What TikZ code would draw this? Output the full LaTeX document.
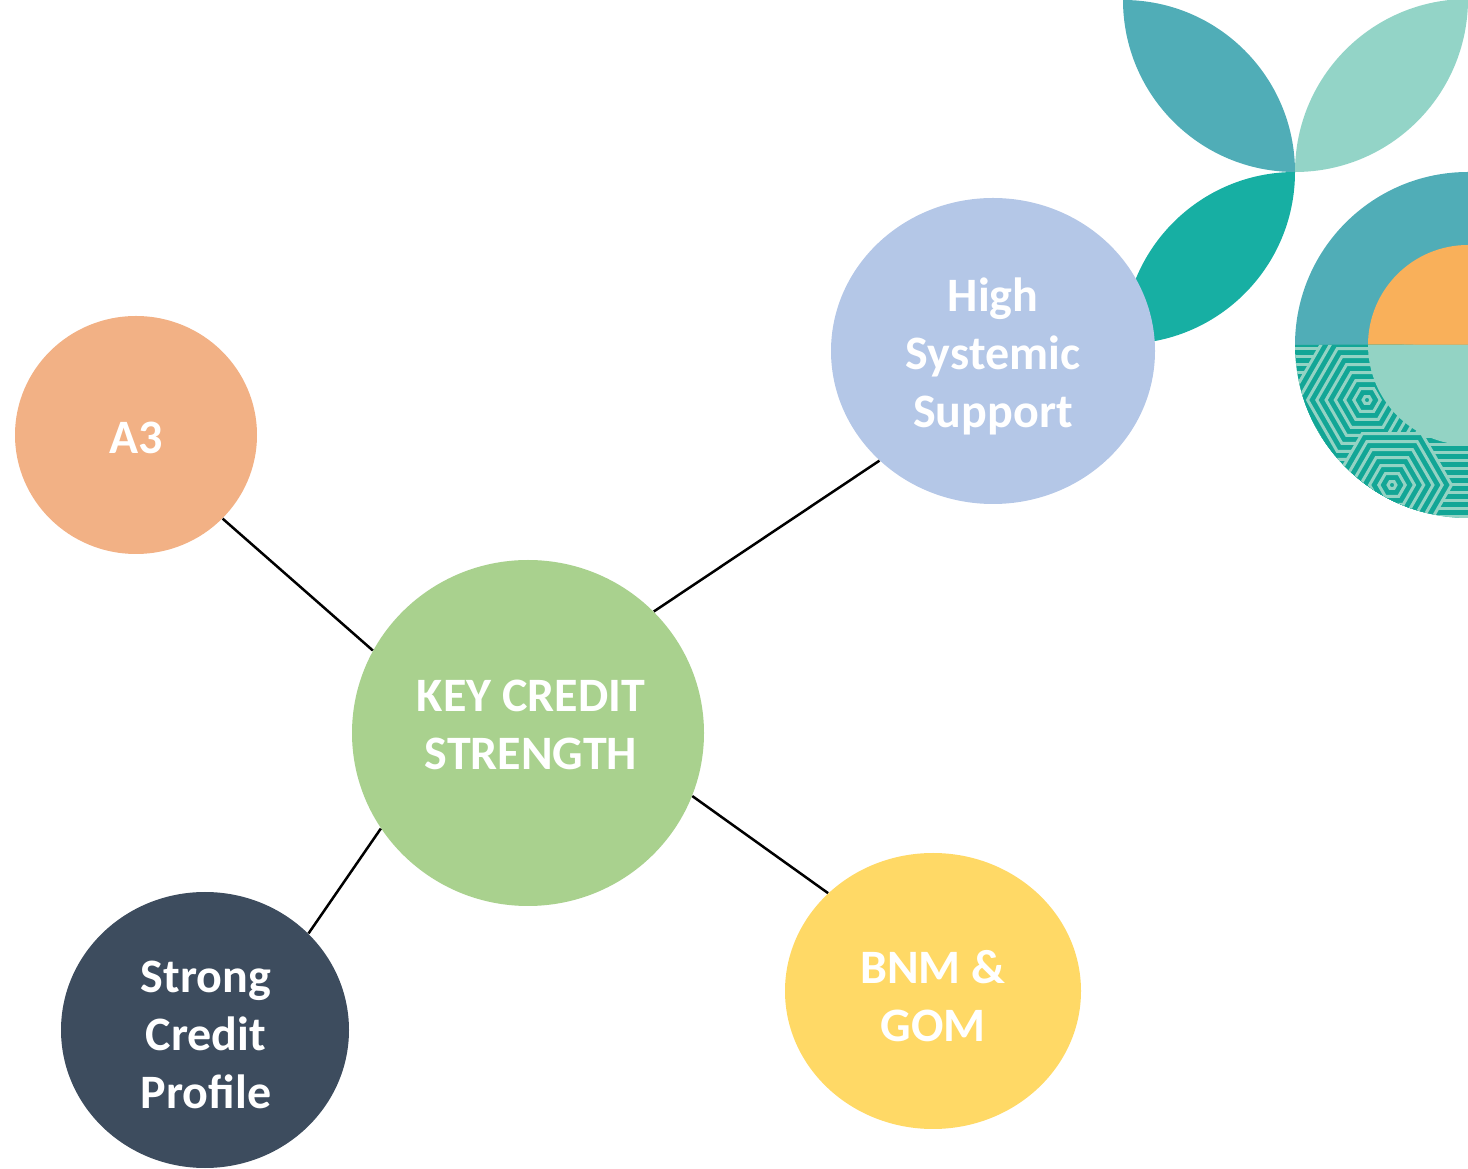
\documentclass[tikz,border=0pt]{standalone}
\usepackage{fontspec}
\setmainfont{Carlito}
\usetikzlibrary{shapes.geometric}

\definecolor{leafteal}{HTML}{50ADB7}
\definecolor{leafmint}{HTML}{93D4C7}
\definecolor{leafgreen}{HTML}{17AFA3}
\definecolor{sunorange}{HTML}{F9B05A}
\definecolor{stripeteal}{HTML}{12A696}
\definecolor{stripemint}{HTML}{93D3C4}
\definecolor{cpeach}{HTML}{F2B185}
\definecolor{cblue}{HTML}{B4C7E7}
\definecolor{cgreen}{HTML}{A9D18E}
\definecolor{cslate}{HTML}{3D4C5E}
\definecolor{cyellow}{HTML}{FFD966}

\tikzset{
  bubble/.style={ellipse, inner sep=0pt, draw=none},
  caption/.style={text=white, inner sep=0pt,
    font=\fontsize{24}{29}\selectfont\bfseries, align=center},
  link/.style={draw=black, line width=1.25pt},
  stripe/.style={draw=stripemint, line width=1.5pt}
}

\begin{document}
\begin{tikzpicture}[x=0.5pt, y=0.5pt]
  \useasboundingbox (0,0) rectangle (1468,1168);

  % leaves
  \fill[leafteal] (1123,1168) arc[start angle=180, end angle=270, radius=86pt]
    arc[start angle=0, end angle=90, radius=86pt] -- cycle;
  \fill[leafmint] (1295,996) arc[start angle=270, end angle=360, radius=86.5pt]
    arc[start angle=90, end angle=180, radius=86.5pt] -- cycle;
  \fill[leafgreen] (1295,996) arc[start angle=0, end angle=-90, radius=86pt]
    arc[start angle=180, end angle=90, radius=86pt] -- cycle;

  % quarter rings
  \coordinate (ringc) at (1468,823);
  \fill[leafteal] (ringc) -- ++(-173,0) arc[start angle=180, end angle=90, radius=86.5pt] -- cycle;
  \fill[sunorange] (ringc) -- ++(-100,0) arc[start angle=180, end angle=90, radius=50pt] -- cycle;

  \begin{scope}
    \clip (ringc) -- ++(-173,0) arc[start angle=180, end angle=270, radius=86.5pt] -- cycle;
    \fill[stripeteal] (1280,630) rectangle (1468,830);
    \foreach \yy in {819,811,...,640} {
      \draw[stripe] (1280,\yy) -- (1468,\yy);
    }
    % nested hexagons
    \foreach \k in {8,7,...,0} {
      \pgfmathsetmacro{\r}{4+9.24*\k}
      \filldraw[fill=stripeteal, stripe, shift={(1367,768)}]
        (0:\r) -- (60:\r) -- (120:\r) -- (180:\r) -- (240:\r) -- (300:\r) -- cycle;
    }
    \foreach \k in {6,5,...,0} {
      \pgfmathsetmacro{\r}{4+9.24*\k}
      \filldraw[fill=stripeteal, stripe, shift={(1392,683)}]
        (0:\r) -- (60:\r) -- (120:\r) -- (180:\r) -- (240:\r) -- (300:\r) -- cycle;
    }
  \end{scope}
  \fill[stripemint] (ringc) -- ++(-100,0) arc[start angle=180, end angle=270, radius=50pt] -- cycle;

  % bubbles
  \node[bubble, fill=cpeach, minimum width=121pt, minimum height=119pt] (a3) at (136,733) {};
  \node[bubble, fill=cblue, minimum width=162pt, minimum height=153pt] (hss) at (993,817) {};
  \node[bubble, fill=cgreen, minimum width=176pt, minimum height=173pt] (kcs) at (528,435) {};
  \node[bubble, fill=cslate, minimum width=144pt, minimum height=138pt] (scp) at (205,138) {};
  \node[bubble, fill=cyellow, minimum width=148pt, minimum height=138pt] (bnm) at (933,177) {};

  % captions
  \node[caption] (a3text) at (136,730) {A3};
  \node[caption] (hsstext) at (993,812) {High\\Systemic\\Support};
  \node[caption] (kcstext) at (531,443) {KEY CREDIT\\STRENGTH};
  \node[caption] (scptext) at (206,133) {Strong\\Credit\\Profile};
  \node[caption] (bnmtext) at (933,172) {BNM \&\\GOM};

  % connectors
  \draw[link] (a3.-44.3) -- (kcs.152.6);
  \draw[link] (kcs.44.8) -- (hss.-136.5);
  \draw[link] (kcs.-21) -- (bnm.137);
  \draw[link] (kcs.-147.5) -- (scp.43.6);
\end{tikzpicture}
\end{document}
